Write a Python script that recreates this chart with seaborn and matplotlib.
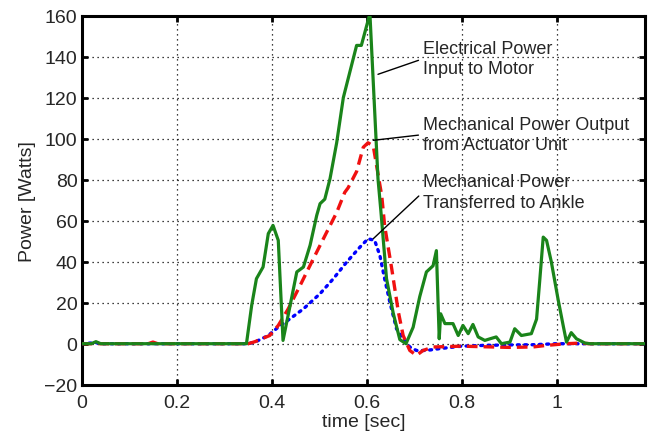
import numpy as np
import pandas as pd
import matplotlib
matplotlib.use('Agg')
import matplotlib.pyplot as plt
import seaborn as sns

# --- data ---
green_t = [0.0, 0.02, 0.03, 0.04, 0.345, 0.347, 0.358, 0.368, 0.382, 0.393, 0.403, 0.414,
           0.424, 0.439, 0.453, 0.467, 0.481, 0.495, 0.502, 0.512, 0.523, 0.537, 0.551,
           0.579, 0.589, 0.607, 0.624, 0.630, 0.642, 0.656, 0.670, 0.683, 0.698, 0.712,
           0.726, 0.740, 0.747, 0.753, 0.756, 0.765, 0.782, 0.793, 0.803, 0.814, 0.824,
           0.835, 0.849, 0.860, 0.873, 0.884, 0.902, 0.912, 0.926, 0.947, 0.958, 0.965,
           0.972, 0.979, 0.989, 1.003, 1.014, 1.021, 1.031, 1.042, 1.060, 1.070, 1.186]
green_p = [0.0, 0.0, 1.0, 0.0, 0.0, 0.0, 18.7, 31.7, 37.4, 53.7, 57.7, 50.4,
           1.6, 18.7, 35.0, 37.4, 48.0, 62.6, 68.3, 70.5, 80.5, 98.0, 120.0,
           145.5, 145.5, 161.0, 80.5, 65.0, 31.7, 15.0, 2.0, 0.0, 8.0, 23.0,
           35.0, 38.0, 45.4, 2.4, 14.6, 9.8, 9.8, 4.0, 8.9, 4.9, 9.4,
           3.3, 1.6, 2.4, 3.3, 0.0, 0.8, 7.3, 4.0, 4.9, 12.0, 31.7,
           52.0, 50.4, 40.0, 22.0, 8.9, 0.8, 5.4, 2.4, 0.3, 0.0, 0.0]

red_t = [0.0, 0.14, 0.15, 0.16, 0.351, 0.365, 0.379, 0.396, 0.414, 0.435, 0.460, 0.488,
         0.516, 0.537, 0.554, 0.561, 0.579, 0.593, 0.603, 0.614, 0.632, 0.638, 0.653,
         0.667, 0.677, 0.691, 0.705, 0.719, 0.740, 0.80, 0.85, 0.90, 0.95, 0.98, 1.00,
         1.021, 1.05, 1.07, 1.186]
red_p = [0.0, 0.0, 0.8, 0.0, 0.0, 1.0, 2.4, 4.0, 8.9, 17.0, 28.4, 41.5,
         54.4, 64.0, 73.8, 76.0, 84.0, 95.8, 98.0, 96.5, 72.0, 57.6, 36.5,
         15.4, 4.0, -3.3, -5.7, -3.3, -1.6, -1.2, -1.5, -1.8, -1.6, -0.8, -0.4,
         0.0, 0.3, 0.0, 0.0]

blue_t = [0.0, 0.03, 0.04, 0.35, 0.365, 0.393, 0.414, 0.439, 0.467, 0.502, 0.530, 0.558,
          0.586, 0.603, 0.617, 0.628, 0.638, 0.649, 0.663, 0.677, 0.691, 0.705, 0.726,
          0.754, 0.80, 0.85, 0.90, 0.95, 1.00, 1.186]
blue_p = [0.0, 0.5, 0.0, 0.0, 0.8, 4.0, 8.1, 12.2, 17.0, 24.4, 31.7, 39.8,
          47.1, 51.2, 50.4, 43.0, 31.7, 20.3, 7.3, 2.4, -1.6, -3.3, -3.3,
          -2.4, -1.2, -0.8, -0.6, -0.5, 0.0, 0.0]

x_ticks = [0, 0.2, 0.4, 0.6, 0.8, 1.0]
x_tick_labels = ['0', '0.2', '0.4', '0.6', '0.8', '1']
y_ticks = [-20, 0, 20, 40, 60, 80, 100, 120, 140, 160]

labels = ['Electrical Power\nInput to Motor',
          'Mechanical Power Output\nfrom Actuator Unit',
          'Mechanical Power\nTransferred to Ankle']

# --- style ---
sns.set_style('ticks')
plt.rcParams['font.family'] = ['Liberation Sans', 'DejaVu Sans']
plt.rcParams['xtick.direction'] = 'in'
plt.rcParams['ytick.direction'] = 'in'

fig = plt.figure(figsize=(6.52, 4.39), dpi=100)
ax = fig.add_axes([0.1253, 0.1214, 0.8637, 0.8406])

blue_df = pd.DataFrame({'t': blue_t, 'p': blue_p})
red_df = pd.DataFrame({'t': red_t, 'p': red_p})
green_df = pd.DataFrame({'t': green_t, 'p': green_p})

sns.lineplot(data=blue_df, x='t', y='p', ax=ax, sort=False, estimator=None,
             color='#0000ff', lw=2.4, linestyle=(0, (0.6, 1.6)),
             dash_capstyle='round', zorder=3)
sns.lineplot(data=red_df, x='t', y='p', ax=ax, sort=False, estimator=None,
             color='#f01010', lw=2.4, linestyle=(0, (3.2, 1.8)), zorder=4)
sns.lineplot(data=green_df, x='t', y='p', ax=ax, sort=False, estimator=None,
             color='#1a841a', lw=2.3, zorder=5)

ax.set_xlim(0, 1.186)
ax.set_ylim(-20, 160)
ax.set_xticks(x_ticks)
ax.set_xticklabels(x_tick_labels)
ax.set_yticks(y_ticks)
ax.tick_params(labelsize=14, length=4, width=2, color='black',
               top=True, right=True)
ax.tick_params(axis='x', pad=7)
ax.tick_params(axis='y', pad=3)
ax.grid(True, linestyle=(0, (1, 3)), color='black', lw=0.9)
for s in ax.spines.values():
    s.set_linewidth(2.2)
    s.set_color('black')

ax.set_xlabel('time [sec]', fontsize=14, labelpad=1)
ax.set_ylabel('Power [Watts]', fontsize=14, labelpad=6)

# --- annotations ---
text_pos = [(0.719, 139), (0.719, 102), (0.719, 74)]
arrow_tip = [(0.624, 131.4), (0.614, 99.2), (0.614, 51.2)]
for lab, (tx, ty), (ax_, ay) in zip(labels, text_pos, arrow_tip):
    ax.annotate(lab, xy=(ax_, ay), xytext=(tx, ty), fontsize=13, ha='left',
                va='center', linespacing=1.25, zorder=6,
                arrowprops=dict(arrowstyle='-', color='black', lw=1,
                                shrinkA=1, shrinkB=0, relpos=(0, 0.5)))

fig.savefig('out.png', dpi=100)
